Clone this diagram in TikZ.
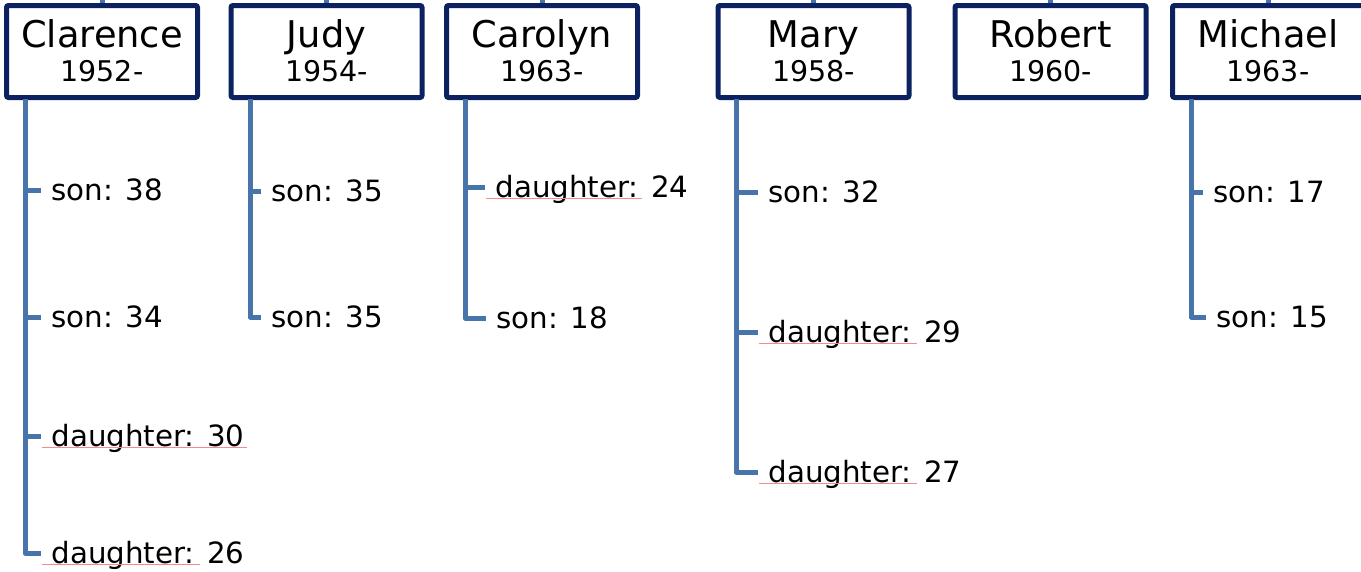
\documentclass[tikz,border=0pt]{standalone}
\usepackage{fontspec}
\setmainfont{DejaVu Sans}
\definecolor{boxnavy}{RGB}{12,34,96}
\definecolor{kinblue}{RGB}{72,116,172}
\definecolor{spellred}{RGB}{240,140,140}
\tikzset{
  person/.style={draw=boxnavy, line width=5pt, rounded corners=2pt, fill=white,
    minimum width=191pt, minimum height=92pt, inner sep=0pt},
  pname/.style={anchor=base, inner sep=0pt, font=\fontsize{36.8}{40}\selectfont},
  pyear/.style={anchor=base, inner sep=0pt, font=\fontsize{28.5}{32}\selectfont},
  kid/.style={anchor=west, inner sep=0pt, text height=21.3pt, text depth=0pt,
    font=\fontsize{29.3}{34}\selectfont},
  kin/.style={draw=kinblue, line width=5pt, line join=round},
  kinlink/.style={kin, shorten >=10.5pt},
  spellmark/.style={draw=spellred, line width=1pt},
}
\begin{document}
\begin{tikzpicture}[x=1pt, y=-1pt]
\useasboundingbox (0,0) rectangle (1361,571);

% people in the row
\node[person] (clarence) at (102,51.5) {};
\node[person] (judy)     at (326.5,51.5) {};
\node[person] (carolyn)  at (542,51.5) {};
\node[person] (mary)     at (813.5,51.5) {};
\node[person] (robert)   at (1050.5,51.5) {};
\node[person] (michael)  at (1268,51.5) {};

% links up to the parents' row
\coordinate (cl-up) at (102,-4);
\coordinate (ju-up) at (326.5,-4);
\coordinate (ca-up) at (542,-4);
\coordinate (ma-up) at (813.5,-4);
\coordinate (ro-up) at (1050.5,-4);
\coordinate (mi-up) at (1268,-4);
\foreach \p/\u in {clarence/cl-up, judy/ju-up, carolyn/ca-up, mary/ma-up, robert/ro-up, michael/mi-up}
  \draw[kin] (\u) -- (\p.north);

% names and years
\node[pname] (clarence-n) at (102,47.5) {Clarence};
\node[pyear] (clarence-y) at (102,81.5) {1952-};
\node[pname] (judy-n) at (326.5,47.5) {Judy};
\node[pyear] (judy-y) at (326.5,81.5) {1954-};
\node[pname] (carolyn-n) at (542,47.5) {Carolyn};
\node[pyear] (carolyn-y) at (542,81.5) {1963-};
\node[pname] (mary-n) at (813.5,47.5) {Mary};
\node[pyear] (mary-y) at (813.5,81.5) {1958-};
\node[pname] (robert-n) at (1050.5,47.5) {Robert};
\node[pyear] (robert-y) at (1050.5,81.5) {1960-};
\node[pname] (michael-n) at (1268,47.5) {Michael};
\node[pyear] (michael-y) at (1268,81.5) {1963-};

% children
\node[kid] (cl1) at (51.4,190) {son: 38};
\node[kid] (cl2) at (51.4,317) {son: 34};
\node[kid] (cl3) at (51.4,436) {daughter: 30};
\node[kid] (cl4) at (51.4,553) {daughter: 26};

\node[kid] (ju1) at (271.4,191) {son: 35};
\node[kid] (ju2) at (271.4,317) {son: 35};

\node[kid] (ca1) at (495.4,187) {daughter: 24};
\node[kid] (ca2) at (496.4,318) {son: 18};

\node[kid] (ma1) at (768.4,192) {son: 32};
\node[kid] (ma2) at (768.4,332) {daughter: 29};
\node[kid] (ma3) at (768.4,472) {daughter: 27};

\node[kid] (mi1) at (1213.4,192) {son: 17};
\node[kid] (mi2) at (1216.4,317) {son: 15};

% family trunks and ticks
\coordinate (cl-trunk) at (25,99);
\coordinate (ju-trunk) at (250,99);
\coordinate (ca-trunk) at (465,99);
\coordinate (ma-trunk) at (736,99);
\coordinate (mi-trunk) at (1191,99);

\foreach \k in {cl1,cl2,cl3,cl4} \draw[kinlink] (cl-trunk) |- (\k.west);
\foreach \k in {ju1,ju2} \draw[kinlink] (ju-trunk) |- (\k.west);
\foreach \k in {ca1,ca2} \draw[kinlink] (ca-trunk) |- (\k.west);
\foreach \k in {ma1,ma2,ma3} \draw[kinlink] (ma-trunk) |- (\k.west);
\foreach \k in {mi1,mi2} \draw[kinlink] (mi-trunk) |- (\k.west);

% spell-check underlines
\draw[spellmark] ([xshift=-9.4pt,yshift=-0.5pt]cl3.south west) -- ++(205,0);
\draw[spellmark] ([xshift=-9.4pt,yshift=-0.5pt]cl4.south west) -- ++(158,0);
\draw[spellmark] ([xshift=-9.4pt,yshift=-0.5pt]ca1.south west) -- ++(156,0);
\draw[spellmark] ([xshift=-9.4pt,yshift=-0.5pt]ma2.south west) -- ++(158,0);
\draw[spellmark] ([xshift=-9.4pt,yshift=-0.5pt]ma3.south west) -- ++(158,0);
\end{tikzpicture}
\end{document}
